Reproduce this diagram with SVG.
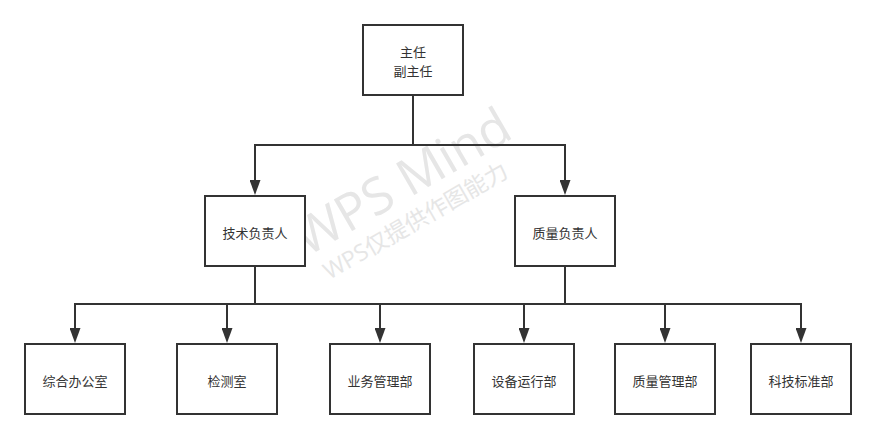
<svg xmlns="http://www.w3.org/2000/svg" width="876" height="439" viewBox="0 0 876 439">
<style>
.box{fill:#fff;stroke:#333;stroke-width:2}
.lbl{font-family:"Noto Sans CJK SC","Liberation Sans",sans-serif;font-size:13px;fill:#333;text-anchor:middle;dominant-baseline:central}
.edge{fill:none;stroke:#333;stroke-width:2}
.wm{font-family:"Open Sans","Noto Sans CJK SC",sans-serif;fill:#e6e6e6;text-anchor:middle}
</style>
<defs>
<marker id="arr" viewBox="0 0 15 11" refX="5" refY="5.5" markerWidth="15" markerHeight="11" markerUnits="userSpaceOnUse" orient="auto">
<path d="M0,0 L15,5.5 L0,11 Z" fill="#333"/>
</marker>
</defs>
<rect width="876" height="439" fill="#fff"/>
<g id="watermark" transform="translate(411,197) rotate(-30)">
<text class="wm" x="0" y="0" font-size="51">WPS Mind</text>
<text class="wm" x="-8" y="31" font-size="23">WPS仅提供作图能力</text>
</g>
<g id="connectors">
<path class="edge" d="M413,95 V145 H255 V185" marker-end="url(#arr)"/>
<path class="edge" d="M413,95 V145 H565 V185" marker-end="url(#arr)"/>
<path class="edge" d="M255,266 V304 H75 V333" marker-end="url(#arr)"/>
<path class="edge" d="M255,266 V304 H227 V333" marker-end="url(#arr)"/>
<path class="edge" d="M565,266 V304 H380 V333" marker-end="url(#arr)"/>
<path class="edge" d="M255,266 V304 H524 V333" marker-end="url(#arr)"/>
<path class="edge" d="M565,266 V304 H665 V333" marker-end="url(#arr)"/>
<path class="edge" d="M565,266 V304 H801 V333" marker-end="url(#arr)"/>
</g>
<g id="n-director"><rect class="box" x="363" y="25" width="100" height="70"/><text class="lbl" x="413" y="51">主任</text><text class="lbl" x="413" y="70">副主任</text></g>
<g id="n-tech"><rect class="box" x="205" y="196" width="100" height="70"/><text class="lbl" x="255" y="232">技术负责人</text></g>
<g id="n-quality"><rect class="box" x="515" y="196" width="100" height="70"/><text class="lbl" x="565" y="232">质量负责人</text></g>
<g id="n-office"><rect class="box" x="25" y="344" width="100" height="70"/><text class="lbl" x="75" y="380">综合办公室</text></g>
<g id="n-lab"><rect class="box" x="177" y="344" width="100" height="70"/><text class="lbl" x="227" y="380">检测室</text></g>
<g id="n-business"><rect class="box" x="330" y="344" width="100" height="70"/><text class="lbl" x="380" y="380">业务管理部</text></g>
<g id="n-equipment"><rect class="box" x="474" y="344" width="100" height="70"/><text class="lbl" x="524" y="380">设备运行部</text></g>
<g id="n-qm"><rect class="box" x="615" y="344" width="100" height="70"/><text class="lbl" x="665" y="380">质量管理部</text></g>
<g id="n-std"><rect class="box" x="751" y="344" width="100" height="70"/><text class="lbl" x="801" y="380">科技标准部</text></g>
</svg>
